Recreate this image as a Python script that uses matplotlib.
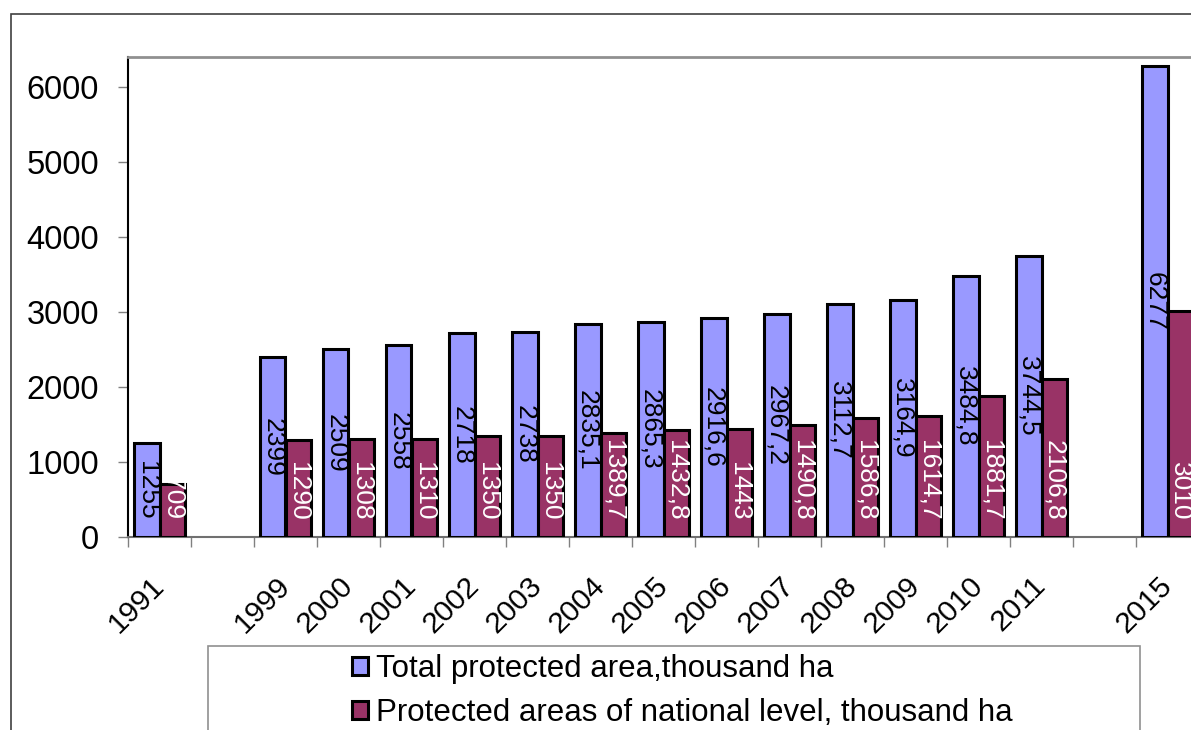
import numpy as np
import matplotlib.pyplot as plt
from matplotlib.patches import Rectangle

plt.rcParams['font.family'] = ['Liberation Sans', 'DejaVu Sans']

# blank strings are empty slots on the category axis
years = ['1991', '', '1999', '2000', '2001', '2002', '2003', '2004', '2005',
         '2006', '2007', '2008', '2009', '2010', '2011', '', '2015']
total = [1255, None, 2399, 2509, 2558, 2718, 2738, 2835.1, 2865.3, 2916.6,
         2967.2, 3112.7, 3164.9, 3484.8, 3744.5, None, 6277]
national = [709, None, 1290, 1308, 1310, 1350, 1350, 1389.7, 1432.8, 1443,
            1490.8, 1586.8, 1614.7, 1881.7, 2106.8, None, 3010]
names = ['Total protected area,thousand ha',
         'Protected areas of national level, thousand ha']
colors = ['#9999FF', '#993366']


def fmt(v):
    # decimal comma
    return ('%g' % v).replace('.', ',')


W, H = 1191, 730
fig = plt.figure(figsize=(W / 100, H / 100), dpi=100)
ax = fig.add_axes([128 / W, (H - 537) / H, 1071 / W, 480 / H])

x = np.arange(len(years))
tot = np.array(total, dtype=float)
nat = np.array(national, dtype=float)
w = 0.41

b1 = ax.bar(x - w / 2, tot, width=w, color=colors[0], edgecolor='black', linewidth=2.2, zorder=3)
b2 = ax.bar(x + w / 2, nat, width=w, color=colors[1], edgecolor='black', linewidth=2.2, zorder=3)

for xi, v in zip(x, tot):
    if np.isnan(v):
        continue
    ax.text(xi - w / 2, v / 2, fmt(v), rotation=270, ha='center', va='center',
            fontsize=19, color='black', zorder=4)
for xi, v in zip(x, nat):
    if np.isnan(v):
        continue
    ax.annotate(fmt(v), (xi + w / 2, 0), xytext=(0, 12), textcoords='offset points',
                rotation=270, ha='center', va='bottom', fontsize=19,
                color='white', zorder=4)

ax.set_xlim(-0.5, len(years) - 0.5)
ax.set_ylim(0, 6400)
ax.set_yticks(range(0, 7000, 1000))
ax.tick_params(axis='y', labelsize=23.5, length=7, width=1, color='#808080', pad=14)

ax.set_xticks(x)
ax.set_xticklabels(years, rotation=45, ha='right', va='center', rotation_mode='anchor')
ax.tick_params(axis='x', which='major', length=0, labelsize=21.5, pad=32)
ax.set_xticks(np.arange(-0.5, len(years)), minor=True)
ax.tick_params(axis='x', which='minor', length=7, width=1, color='#808080')

ax.spines['right'].set_visible(False)
ax.spines['top'].set_color('#909090')
ax.spines['top'].set_linewidth(2)
ax.spines['left'].set_color('black')
ax.spines['left'].set_linewidth(1.5)
ax.spines['bottom'].set_color('#707070')
ax.spines['bottom'].set_linewidth(1.5)

# outer chart frame and legend frame, both running off the canvas
fig.add_artist(Rectangle((11 / W, -0.5), 1.5, 1 - 14 / H + 0.5, transform=fig.transFigure,
                         fill=False, edgecolor='#404040', linewidth=1.2))
fig.add_artist(Rectangle((208 / W, -0.5), (1140 - 208) / W, 1 - 646 / H + 0.5,
                         transform=fig.transFigure, fill=False, edgecolor='#909090',
                         linewidth=1.2))

fig.legend([b1, b2], names, loc='center left', bbox_to_anchor=(352 / W, 1 - 691 / H),
           frameon=False, fontsize=22.5, handlelength=0.52, handleheight=0.52,
           handletextpad=0.25, labelspacing=0.45, borderpad=0, borderaxespad=0)

fig.savefig('out.png', dpi=100)
